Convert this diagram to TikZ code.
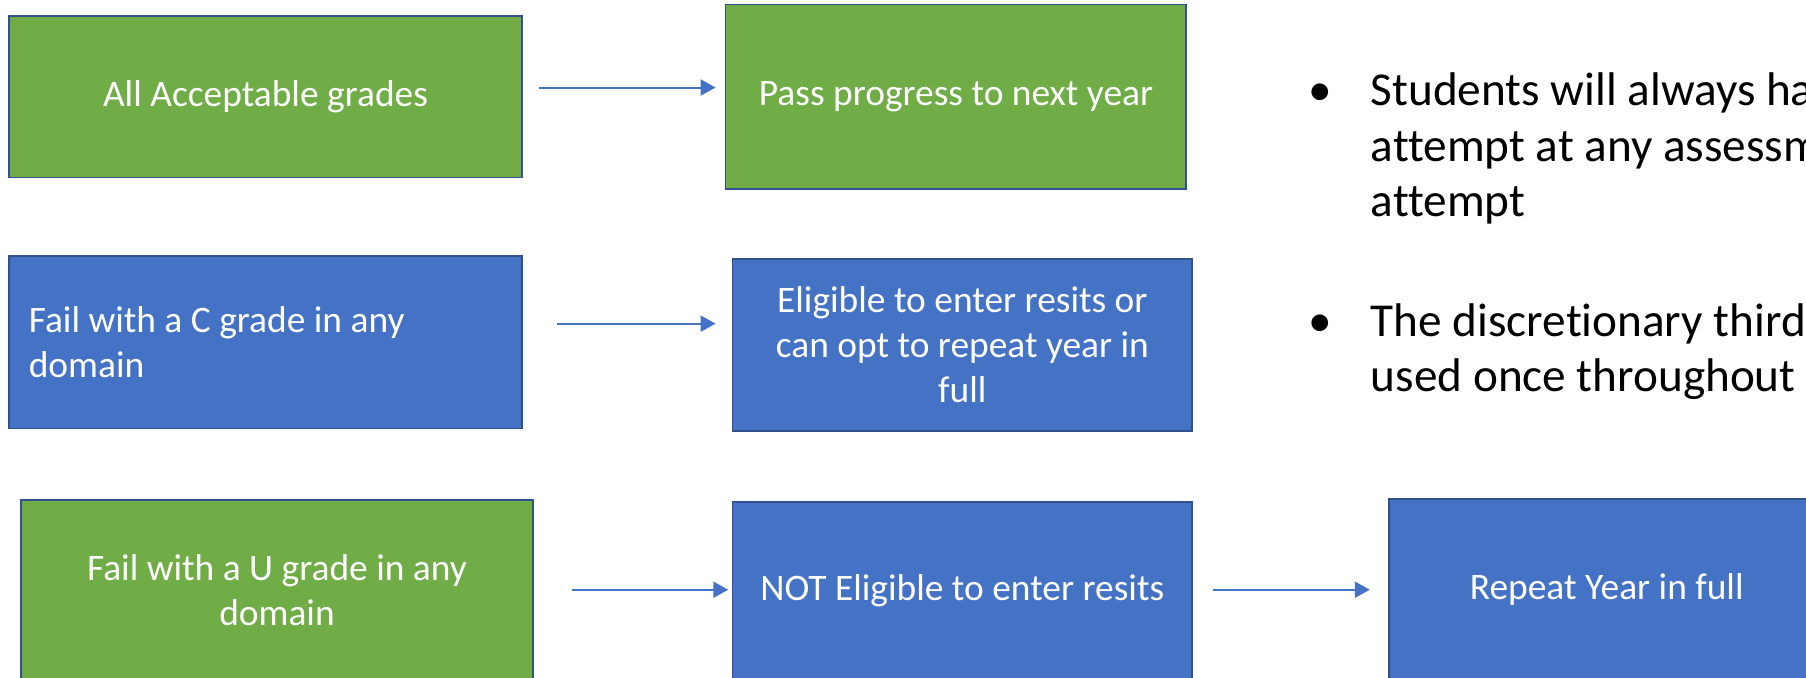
\documentclass[tikz,border=0pt]{standalone}
\usepackage{fontspec}
\setmainfont{Carlito}[Ligatures=NoCommon]
\usetikzlibrary{arrows.meta,calc}
\definecolor{gfill}{HTML}{70AD47}
\definecolor{bfill}{HTML}{4472C4}
\definecolor{edgecol}{HTML}{2F528F}
\definecolor{arrcol}{HTML}{4472C4}
\begin{document}
\begin{tikzpicture}[x=1pt,y=-1pt,
  boxbase/.style={draw=edgecol, line width=1.5pt, inner sep=0pt, text=white,
    font=\fontsize{32.5}{39}\selectfont, align=center},
  gbox/.style={boxbase, fill=gfill},
  bbox/.style={boxbase, fill=bfill},
  arr/.style={draw=arrcol, line width=1.7pt, -{Triangle[length=13pt,width=14pt]}},
  bullettext/.style={anchor=base west, inner sep=0pt, font=\fontsize{41}{50}\selectfont, text=black}
]
\useasboundingbox (0,0) rectangle (1568,587.8);

\node[gbox, minimum width=445pt, minimum height=140pt] (acc) at (230.5,84) {All Acceptable grades};
\node[gbox, minimum width=400pt, minimum height=160pt] (pass) at (830,84) {Pass progress to next year};

\node[bbox, text width=411pt, inner xsep=17pt, minimum height=150pt, align=flush left] (failc) at (230.5,297) {Fail with a C grade in any\\domain};
\node[bbox, minimum width=399pt, minimum height=149pt] (elig) at (835.5,299.5) {Eligible to enter resits or\\can opt to repeat year in\\full};

\node[gbox, minimum width=445pt, minimum height=156pt] (failu) at (240.5,512) {Fail with a U grade in any\\domain};
\node[bbox, minimum width=399pt, minimum height=154pt] (notel) at (835.5,513) {NOT Eligible to enter resits};
\node[bbox, minimum width=378pt, minimum height=157pt] (repeat) at (1395,511.5) {Repeat Year in full};

\draw[arr] ($(acc.east)+(14,-8)$) -- ($(pass.west)+(-8,-8)$);
\draw[arr] ($(failc.east)+(30,-16)$) -- ($(elig.west)+(-14,-18.5)$);
\draw[arr] ($(failu.east)+(33,0)$) -- ($(notel.west)+(-3,-1)$);
\draw[arr] ($(notel.east)+(17,-1)$) -- ($(repeat.west)+(-16,0.5)$);

\node[bullettext] (b1) at (1136,92) {•};
\node[bullettext] (l1) at (1190,92) {Students will always have};
\node[bullettext] (l2) at (1190,140) {attempt at any assessment};
\node[bullettext] (l3) at (1190,188) {attempt};
\node[bullettext] (b2) at (1136,292) {•};
\node[bullettext] (l4) at (1190,292) {The discretionary third};
\node[bullettext] (l5) at (1190,340) {used once throughout};
\end{tikzpicture}
\end{document}
